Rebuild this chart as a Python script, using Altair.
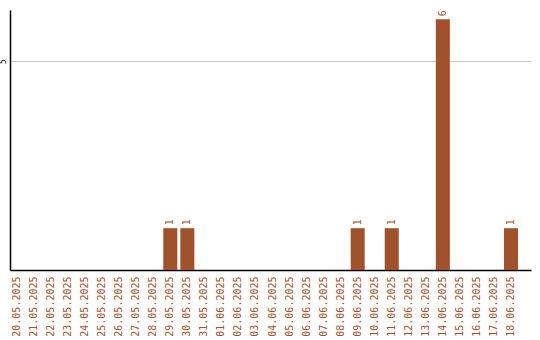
import altair as alt
import pandas as pd

# Daily counts, 20.05.2025 – 18.06.2025
dates = [
    "20.05.2025", "21.05.2025", "22.05.2025", "23.05.2025", "24.05.2025",
    "25.05.2025", "26.05.2025", "27.05.2025", "28.05.2025", "29.05.2025",
    "30.05.2025", "31.05.2025", "01.06.2025", "02.06.2025", "03.06.2025",
    "04.06.2025", "05.06.2025", "06.06.2025", "07.06.2025", "08.06.2025",
    "09.06.2025", "10.06.2025", "11.06.2025", "12.06.2025", "13.06.2025",
    "14.06.2025", "15.06.2025", "16.06.2025", "17.06.2025", "18.06.2025",
]
counts = [
    0, 0, 0, 0, 0,
    0, 0, 0, 0, 1,
    1, 0, 0, 0, 0,
    0, 0, 0, 0, 0,
    1, 0, 1, 0, 0,
    6, 0, 0, 0, 1,
]

df = pd.DataFrame({"date": dates, "count": counts})

BROWN = "#a0522d"
FONT = "DejaVu Sans Mono"

x_enc = alt.X(
    "date:N",
    sort=dates,
    title=None,
    scale=alt.Scale(paddingInner=0.176, paddingOuter=0.382, align=0),
    axis=alt.Axis(
        labelAngle=270,
        labelAlign="right",
        labelBaseline="middle",
        labelColor=BROWN,
        labelFont=FONT,
        labelFontSize=10,
        labelPadding=6,
        ticks=False,
        grid=False,
        domainColor="black",
        domainWidth=1.5,
        labelOverlap=False,
    ),
)

y_enc = alt.Y(
    "count:Q",
    title=None,
    scale=alt.Scale(domain=[0, 6.22], nice=False),
    axis=alt.Axis(
        values=[5],
        labelAngle=270,
        labelAlign="center",
        labelBaseline="bottom",
        labelColor="black",
        labelFont=FONT,
        labelFontSize=8,
        labelPadding=3,
        ticks=False,
        grid=True,
        gridColor="#c8c8c8",
        gridWidth=1,
        domainColor="black",
        domainWidth=1.5,
    ),
)

bars = alt.Chart(df).mark_bar(color=BROWN).encode(x=x_enc, y=y_enc)

labels = (
    alt.Chart(df)
    .transform_filter(alt.datum["count"] > 0)
    .mark_text(
        angle=270,
        align="left",
        baseline="middle",
        dx=3,
        color=BROWN,
        font=FONT,
        fontSize=10,
    )
    .encode(x=alt.X("date:N", sort=dates), y="count:Q", text="count:Q")
)

chart = (
    alt.layer(bars, labels)
    .properties(
        width=521,
        height=260,
        autosize=alt.AutoSizeParams(type="none"),
        padding={"left": 10, "top": 10, "right": 9, "bottom": 70},
        background="white",
    )
    .configure_view(stroke=None)
)

chart.save("out.html", embed_options={"renderer": "svg", "actions": False})
